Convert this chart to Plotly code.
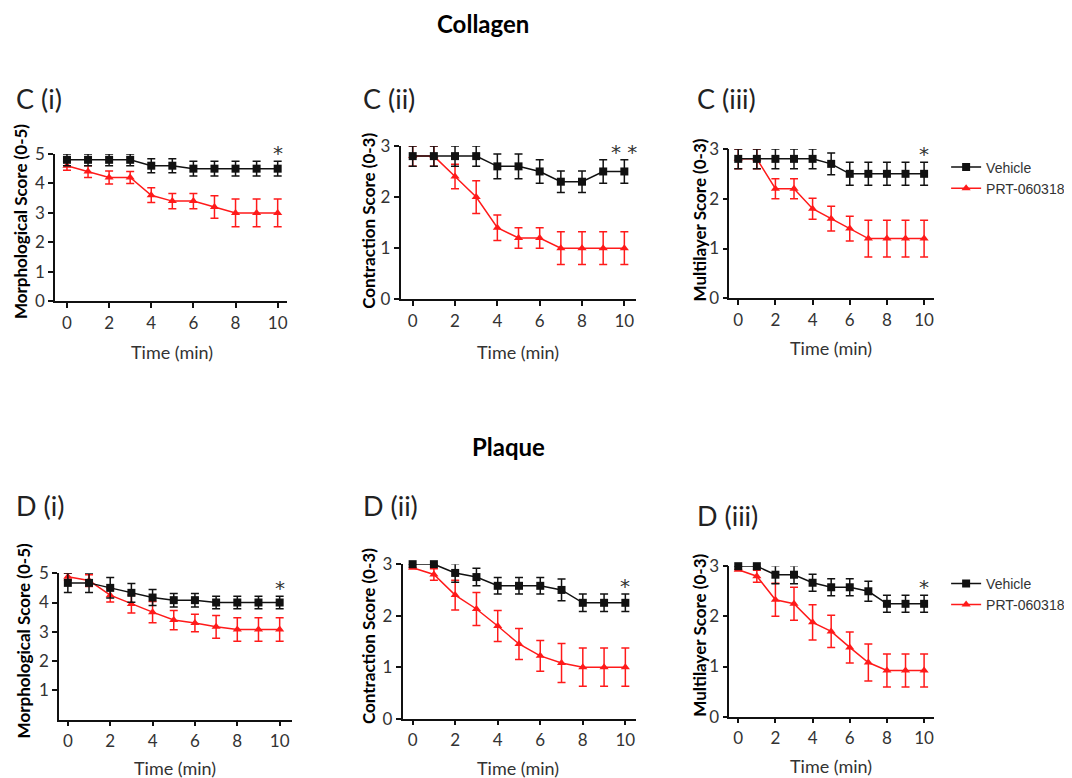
import plotly.graph_objects as go
from plotly.subplots import make_subplots

W, H = 1072, 778

time_min = [0, 1, 2, 3, 4, 5, 6, 7, 8, 9, 10]

# Collagen (C)
c1_vehicle = [4.8, 4.8, 4.8, 4.8, 4.6, 4.6, 4.5, 4.5, 4.5, 4.5, 4.5]
c1_vehicle_err = [0.2, 0.2, 0.2, 0.2, 0.24, 0.24, 0.25, 0.25, 0.25, 0.25, 0.25]
c1_prt = [4.6, 4.4, 4.2, 4.2, 3.6, 3.4, 3.4, 3.2, 3.0, 3.0, 3.0]
c1_prt_err = [0.15, 0.2, 0.22, 0.2, 0.25, 0.26, 0.26, 0.38, 0.47, 0.47, 0.47]

c2_vehicle = [2.8, 2.8, 2.8, 2.8, 2.6, 2.6, 2.5, 2.3, 2.3, 2.5, 2.5]
c2_vehicle_err = [0.2, 0.2, 0.2, 0.2, 0.24, 0.24, 0.23, 0.21, 0.21, 0.23, 0.23]
c2_prt = [2.8, 2.8, 2.4, 2.0, 1.4, 1.2, 1.2, 1.0, 1.0, 1.0, 1.0]
c2_prt_err = [0.2, 0.2, 0.24, 0.32, 0.25, 0.2, 0.2, 0.32, 0.32, 0.32, 0.32]

c3_vehicle = [2.8, 2.8, 2.8, 2.8, 2.8, 2.7, 2.5, 2.5, 2.5, 2.5, 2.5]
c3_vehicle_err = [0.2, 0.2, 0.2, 0.2, 0.2, 0.22, 0.23, 0.23, 0.23, 0.23, 0.23]
c3_prt = [2.8, 2.8, 2.2, 2.2, 1.8, 1.6, 1.4, 1.2, 1.2, 1.2, 1.2]
c3_prt_err = [0.2, 0.2, 0.2, 0.2, 0.21, 0.25, 0.25, 0.37, 0.37, 0.37, 0.37]

# Plaque (D)
d1_vehicle = [4.67, 4.67, 4.5, 4.33, 4.17, 4.08, 4.08, 4.0, 4.0, 4.0, 4.0]
d1_vehicle_err = [0.33, 0.33, 0.35, 0.32, 0.27, 0.23, 0.23, 0.21, 0.21, 0.21, 0.21]
d1_prt = [4.88, 4.75, 4.25, 3.95, 3.67, 3.4, 3.3, 3.17, 3.08, 3.08, 3.08]
d1_prt_err = [0.12, 0.2, 0.23, 0.31, 0.36, 0.33, 0.3, 0.39, 0.4, 0.4, 0.4]

d2_vehicle = [3.0, 3.0, 2.83, 2.75, 2.58, 2.58, 2.58, 2.5, 2.25, 2.25, 2.25]
d2_vehicle_err = [0.0, 0.0, 0.18, 0.17, 0.16, 0.16, 0.16, 0.21, 0.17, 0.17, 0.17]
d2_prt = [2.93, 2.8, 2.4, 2.13, 1.8, 1.45, 1.22, 1.08, 1.0, 1.0, 1.0]
d2_prt_err = [0.0, 0.11, 0.29, 0.32, 0.3, 0.3, 0.3, 0.38, 0.37, 0.37, 0.37]

d3_vehicle = [3.0, 3.0, 2.83, 2.83, 2.67, 2.58, 2.58, 2.5, 2.25, 2.25, 2.25]
d3_vehicle_err = [0.0, 0.0, 0.18, 0.18, 0.17, 0.17, 0.17, 0.2, 0.17, 0.17, 0.17]
d3_prt = [2.93, 2.8, 2.33, 2.25, 1.88, 1.7, 1.38, 1.08, 0.92, 0.92, 0.92]
d3_prt_err = [0.0, 0.12, 0.33, 0.33, 0.35, 0.32, 0.31, 0.37, 0.33, 0.33, 0.33]

panel_labels = ["C (i)", "C (ii)", "C (iii)", "D (i)", "D (ii)", "D (iii)"]
y_titles = ["Morphological Score (0-5)", "Contraction Score (0-3)", "Multilayer Score (0-3)"] * 2
x_title = "Time (min)"
stars = ["*", "* *", "*", "*", "*", "*"]
y_max = [5, 3, 3, 5, 3, 3]
section_titles = ["Collagen", "Plaque"]
series_names = ["Vehicle", "PRT-060318"]

panels = [
    (c1_vehicle, c1_vehicle_err, c1_prt, c1_prt_err),
    (c2_vehicle, c2_vehicle_err, c2_prt, c2_prt_err),
    (c3_vehicle, c3_vehicle_err, c3_prt, c3_prt_err),
    (d1_vehicle, d1_vehicle_err, d1_prt, d1_prt_err),
    (d2_vehicle, d2_vehicle_err, d2_prt, d2_prt_err),
    (d3_vehicle, d3_vehicle_err, d3_prt, d3_prt_err),
]

# layout, in screen pixels of the reference
boxes = [  # left, right, top, bottom of each plot area
    (55, 287, 155, 302), (401, 637, 147, 300), (730, 935, 150, 299),
    (59, 292, 573, 719), (403, 637, 564, 718), (730, 935, 566, 716),
]
x_ranges = [(-0.57, 10.43), (-0.57, 10.57), (-0.48, 10.54),
            (-0.42, 10.57), (-0.47, 10.52), (-0.48, 10.54)]
label_pos = [(14, 100), (361, 100), (696, 100), (14, 505), (361, 505), (696, 515)]
ytitle_pos = [(20, 222), (368, 222), (700, 221), (23, 640), (369, 636), (700, 635)]
xtitle_pos = [(172, 352), (518, 352), (832, 348), (175, 767), (518, 767), (832, 765)]
section_pos = [(483, 25), (509, 447)]
legend_pos = [(947, 179), (947, 594)]


# screen -> paper; the page renders with a small offset and slight vertical squeeze
def px(x):
    return (x - 8) / W


def py(y):
    return 1 - ((y - 20.5) / 0.97) / H


FONT = "Lato, sans-serif"
RED = "#ff1a1a"
BLACK = "#111111"
GREY = "#333333"

fig = make_subplots(rows=2, cols=3)

for i, (veh, veh_e, prt, prt_e) in enumerate(panels):
    r, c = i // 3 + 1, i % 3 + 1
    legend = "legend" if i == 2 else ("legend2" if i == 5 else None)
    show = legend is not None
    fig.add_trace(go.Scatter(
        x=time_min, y=prt, name=series_names[1], mode="lines+markers",
        line=dict(color=RED, width=1.5),
        marker=dict(symbol="triangle-up", size=8, color=RED),
        error_y=dict(type="data", array=prt_e, color=RED, thickness=1.5, width=4),
        showlegend=show, legend=legend or "legend", cliponaxis=False,
    ), row=r, col=c)
    fig.add_trace(go.Scatter(
        x=time_min, y=veh, name=series_names[0], mode="lines+markers",
        line=dict(color=BLACK, width=1.5),
        marker=dict(symbol="square", size=8, color=BLACK),
        error_y=dict(type="data", array=veh_e, color=BLACK, thickness=1.5, width=4),
        showlegend=show, legend=legend or "legend", cliponaxis=False,
    ), row=r, col=c)

    left, right, top, bottom = boxes[i]
    xa = "xaxis" if i == 0 else f"xaxis{i + 1}"
    ya = "yaxis" if i == 0 else f"yaxis{i + 1}"
    tickvals_y = list(range(1 if i == 3 else 0, y_max[i] + 1))
    fig.layout[xa].update(
        domain=[px(left), px(right)], range=list(x_ranges[i]),
        tickvals=[0, 2, 4, 6, 8, 10], ticks="outside", ticklen=5, tickwidth=1.5,
        showline=True, linecolor=BLACK, linewidth=1.5, showgrid=False, zeroline=False,
        tickfont=dict(size=17, color=GREY), tickcolor=BLACK,
    )
    fig.layout[ya].update(
        domain=[py(bottom), py(top)], range=[0, y_max[i]],
        tickvals=tickvals_y, ticks="outside", ticklen=5, tickwidth=1.5,
        showline=True, linecolor=BLACK, linewidth=1.5, showgrid=False, zeroline=False,
        tickfont=dict(size=17, color=GREY), tickcolor=BLACK,
    )

    xref = "x" if i == 0 else f"x{i + 1}"
    yref = "y" if i == 0 else f"y{i + 1}"
    fig.add_annotation(
        x=10, y=veh[-1] + veh_e[-1], xref=xref, yref=yref, text=stars[i],
        showarrow=False, yanchor="bottom", yshift=-6,
        font=dict(size=20, color=GREY, family="DejaVu Sans"),
    )
    lx, ly = label_pos[i]
    fig.add_annotation(
        x=px(lx), y=py(ly), xref="paper", yref="paper", text=panel_labels[i],
        showarrow=False, xanchor="left", yanchor="middle",
        font=dict(size=27, color="#222", family=FONT),
    )
    tx, ty = ytitle_pos[i]
    fig.add_annotation(
        x=px(tx), y=py(ty), xref="paper", yref="paper", text=f"<b>{y_titles[i]}</b>",
        showarrow=False, xanchor="center", yanchor="middle", textangle=-90,
        font=dict(size=17, color="#000", family=FONT),
    )
    tx, ty = xtitle_pos[i]
    fig.add_annotation(
        x=px(tx), y=py(ty), xref="paper", yref="paper", text=x_title,
        showarrow=False, xanchor="center", yanchor="middle",
        font=dict(size=18, color=GREY, family=FONT),
    )

for text, (cx, cy) in zip(section_titles, section_pos):
    fig.add_annotation(
        x=px(cx), y=py(cy), xref="paper", yref="paper", text=f"<b>{text}</b>",
        showarrow=False, xanchor="center", yanchor="middle",
        font=dict(size=24, color="#000", family=FONT),
    )

legend_style = dict(
    xref="paper", yref="paper", xanchor="left", yanchor="middle",
    bgcolor="rgba(0,0,0,0)", font=dict(size=14, family="Liberation Sans, Arial", color=GREY),
    traceorder="reversed", itemsizing="trace", tracegroupgap=6,
)
fig.update_layout(
    width=W, height=H,
    margin=dict(l=0, r=0, t=0, b=0),
    plot_bgcolor="white", paper_bgcolor="white",
    font=dict(family=FONT),
    legend=dict(x=px(legend_pos[0][0]), y=py(legend_pos[0][1]), **legend_style),
    legend2=dict(x=px(legend_pos[1][0]), y=py(legend_pos[1][1]), **legend_style),
)

fig.write_html("out.html")
